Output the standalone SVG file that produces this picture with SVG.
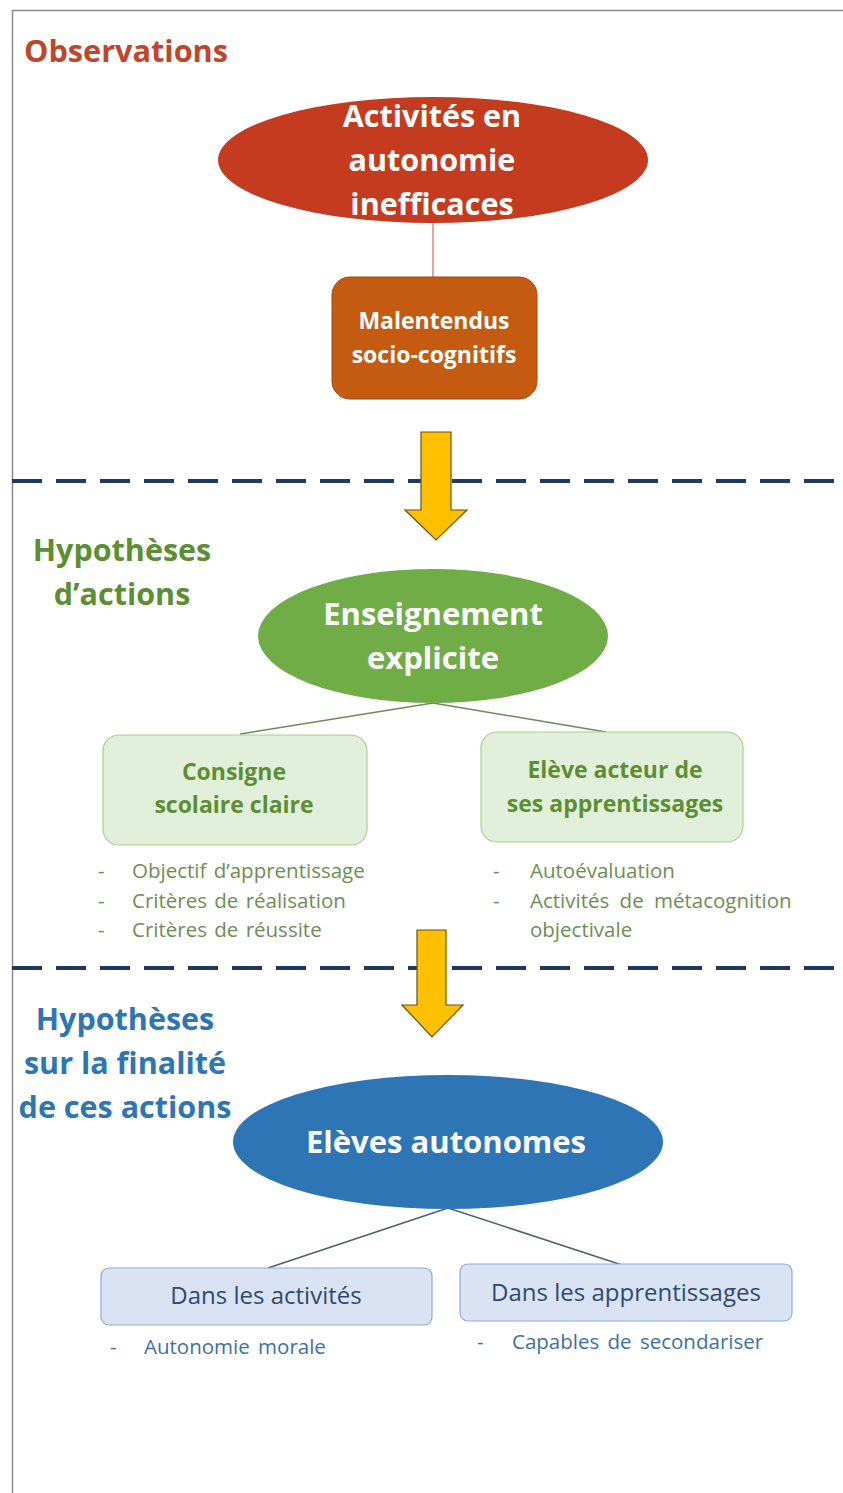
<svg xmlns="http://www.w3.org/2000/svg" width="843" height="1493" viewBox="0 0 843 1493">
<defs>
<style>
.t{font-family:"Open Sans",Lato,"Liberation Sans",sans-serif}
.b{font-weight:bold}
.w{fill:#ffffff;text-anchor:middle}
.sec{font-size:30.5px;font-weight:bold}
.g{fill:#5b8f32}
.bl{fill:#2e75b6}
.bul{font-size:20.5px;word-spacing:2px}
.gb{fill:#6b8f52}
.bb{fill:#3d6fa8}
.dash{stroke:#1f3864;stroke-width:4;stroke-dasharray:30 14;fill:none}
.arrow{fill:#ffc000;stroke:#6b5200;stroke-width:1.2}
</style>
</defs>
<rect x="0" y="0" width="843" height="1493" fill="#ffffff"/>
<path d="M12.5 1493 V10.5 H843" fill="none" stroke="#8c8c8c" stroke-width="1.5"/>

<g id="connectors">
<line x1="433" y1="222" x2="433" y2="277" stroke="#d46a5a" stroke-width="1.2"/>
<line x1="433" y1="703" x2="240" y2="734" stroke="#6d8a5a" stroke-width="1.5"/>
<line x1="433" y1="703" x2="606" y2="732" stroke="#6d8a5a" stroke-width="1.5"/>
<line x1="448" y1="1208" x2="268" y2="1268" stroke="#4a5f7a" stroke-width="1.5"/>
<line x1="448" y1="1208" x2="622" y2="1265" stroke="#4a5f7a" stroke-width="1.5"/>
</g>

<g id="dividers">
<line class="dash" x1="12" y1="481" x2="843" y2="481"/>
<line class="dash" x1="12" y1="968" x2="843" y2="968"/>
</g>

<g id="arrow1">
<path class="arrow" d="M421 432 H451 V510 H467 L436 540 L405 510 H421 Z"/>
</g>
<g id="arrow2">
<path class="arrow" d="M417 930 H446 V1005 H463 L432 1037 L402 1005 H417 Z"/>
</g>

<g id="label-observations">
<text class="t sec" x="24" y="62" fill="#c0452a" textLength="204" lengthAdjust="spacingAndGlyphs">Observations</text>
</g>

<g id="node-activites">
<ellipse cx="433" cy="160" rx="215" ry="63" fill="#c43b20"/>
<text class="t b w" font-size="30.5"><tspan x="432" y="127">Activités en</tspan><tspan x="432" y="171">autonomie</tspan><tspan x="432" y="215">inefficaces</tspan></text>
</g>

<g id="node-malentendus">
<rect x="332" y="277" width="205" height="122" rx="18" fill="#c55a11" stroke="#a0480c" stroke-width="1"/>
<text class="t b w" font-size="23"><tspan x="434" y="329">Malentendus</tspan><tspan x="434" y="363">socio-cognitifs</tspan></text>
</g>

<g id="label-hypotheses-actions">
<text class="t sec g" text-anchor="middle"><tspan x="122" y="561">Hypothèses</tspan><tspan x="122" y="605">d’actions</tspan></text>
</g>

<g id="node-enseignement">
<ellipse cx="433" cy="636" rx="175" ry="67" fill="#70ad47"/>
<text class="t b w" font-size="31"><tspan x="433" y="625">Enseignement</tspan><tspan x="433" y="669">explicite</tspan></text>
</g>

<g id="node-consigne">
<rect x="103" y="735" width="264" height="110" rx="16" fill="#e2efda" stroke="#a9d18e" stroke-width="1.2"/>
<text class="t b g" font-size="23" text-anchor="middle"><tspan x="234" y="780">Consigne</tspan><tspan x="234" y="813">scolaire claire</tspan></text>
<text class="t bul gb"><tspan x="98" y="878">-</tspan><tspan x="132" y="878">Objectif d’apprentissage</tspan><tspan x="98" y="908">-</tspan><tspan x="132" y="908">Critères de réalisation</tspan><tspan x="98" y="937">-</tspan><tspan x="132" y="937">Critères de réussite</tspan></text>
</g>

<g id="node-eleve-acteur">
<rect x="481" y="732" width="262" height="110" rx="16" fill="#e2efda" stroke="#a9d18e" stroke-width="1.2"/>
<text class="t b g" font-size="23" text-anchor="middle"><tspan x="615" y="778">Elève acteur de</tspan><tspan x="615" y="812">ses apprentissages</tspan></text>
<text class="t bul gb"><tspan x="493" y="878">-</tspan><tspan x="530" y="878">Autoévaluation</tspan><tspan x="493" y="908">-</tspan><tspan x="530" y="908" word-spacing="5">Activités de métacognition</tspan><tspan x="530" y="937">objectivale</tspan></text>
</g>

<g id="label-hypotheses-finalite">
<text class="t sec bl" text-anchor="middle"><tspan x="125" y="1030">Hypothèses</tspan><tspan x="125" y="1074">sur la finalité</tspan><tspan x="125" y="1118">de ces actions</tspan></text>
</g>

<g id="node-eleves-autonomes">
<ellipse cx="448" cy="1142" rx="215" ry="67" fill="#2e75b6"/>
<text class="t b w" font-size="31" x="446" y="1153">Elèves autonomes</text>
</g>

<g id="node-activites-box">
<rect x="101" y="1268" width="331" height="57" rx="8" fill="#dae3f3" stroke="#8faadc" stroke-width="1.2"/>
<text class="t" font-size="24" text-anchor="middle" fill="#2f4a70" x="266" y="1304">Dans les activités</text>
<text class="t bul bb"><tspan x="110" y="1354">-</tspan><tspan x="144" y="1354" word-spacing="3">Autonomie morale</tspan></text>
</g>

<g id="node-apprentissages-box">
<rect x="460" y="1264" width="332" height="57" rx="8" fill="#dae3f3" stroke="#8faadc" stroke-width="1.2"/>
<text class="t" font-size="24" text-anchor="middle" fill="#2f4a70" x="626" y="1301">Dans les apprentissages</text>
<text class="t bul bb"><tspan x="477" y="1349">-</tspan><tspan x="512" y="1349" word-spacing="3">Capables de secondariser</tspan></text>
</g>
</svg>
